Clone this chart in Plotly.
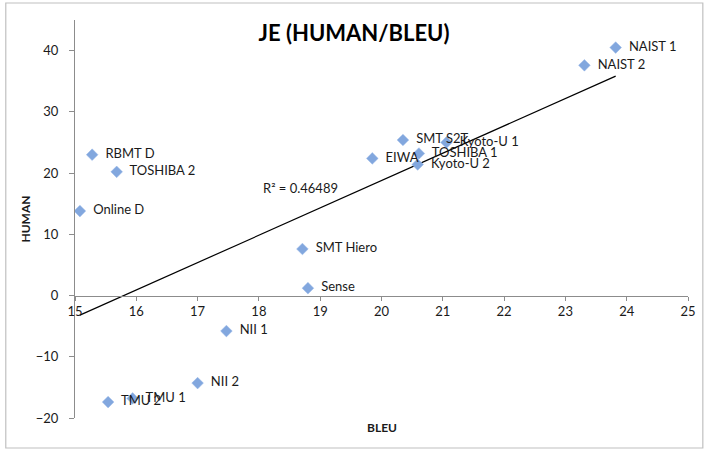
import numpy as np
import plotly.graph_objects as go

systems = ["NAIST 1", "NAIST 2", "SMT S2T", "Kyoto-U 1", "EIWA", "TOSHIBA 1", "Kyoto-U 2",
           "RBMT D", "TOSHIBA 2", "Online D", "SMT Hiero", "Sense", "NII 1", "NII 2",
           "TMU 2", "TMU 1"]
bleu = [23.82, 23.31, 20.35, 21.06, 19.85, 20.61, 20.59,
        15.28, 15.68, 15.08, 18.71, 18.80, 17.47, 17.00,
        15.54, 15.94]
human = [40.5, 37.6, 25.4, 25.0, 22.4, 23.2, 21.4,
         23.0, 20.2, 13.8, 7.6, 1.2, -5.8, -14.3,
         -17.4, -16.8]
x_ticks = [15, 16, 17, 18, 19, 20, 21, 22, 23, 24, 25]
y_ticks = [-20, -10, 0, 10, 20, 30, 40]
r2_text = "R² = 0.46489"

FONT = "Lato, 'Open Sans', sans-serif"
W, H = 708, 450
ML, MR, MT, MB = 75, 13, 20, 32

x_range = [15, 25]
y_range = [-20, 45]

slope, intercept = np.polyfit(bleu, human, 1)
tx = [min(bleu), max(bleu)]
ty = [slope * v + intercept for v in tx]

fig = go.Figure()
fig.add_trace(go.Scatter(
    x=tx, y=ty, mode="lines",
    line=dict(color="#000000", width=1.2),
    hoverinfo="skip", showlegend=False,
))
fig.add_trace(go.Scatter(
    x=bleu, y=human, mode="markers+text",
    text=systems, texttemplate="  %{text}", textposition="middle right",
    textfont=dict(family=FONT, size=13, color="#1a1a1a"),
    marker=dict(symbol="diamond", size=9, color="#82a7de",
                line=dict(color="#9dbbe8", width=0.5)),
    showlegend=False,
))

fig.add_annotation(x=18.03, y=17.5, xref="x", yref="y", text=r2_text,
                   showarrow=False, xanchor="left", yanchor="middle",
                   font=dict(family=FONT, size=13, color="#1a1a1a"))

pw = W - ML - MR
ph = H - MT - MB
fig.add_annotation(x=0.5, y=-9 / ph, xref="paper", yref="paper", text="<b>BLEU</b>",
                   showarrow=False, xanchor="center", yanchor="middle",
                   font=dict(family=FONT, size=12, color="#1a1a1a"))

# outer chart frame
fig.add_shape(type="rect", xref="paper", yref="paper",
              x0=(5 - ML) / pw, x1=(710 - ML) / pw,
              y0=(H - MB - 448) / ph, y1=(H - MB - 3) / ph,
              line=dict(color="#c0c0c0", width=1.2), fillcolor="rgba(0,0,0,0)",
              layer="below")

zero_pos = (0 - y_range[0]) / (y_range[1] - y_range[0])

fig.update_layout(
    width=W, height=H,
    margin=dict(l=ML, r=MR, t=MT, b=MB),
    paper_bgcolor="white", plot_bgcolor="white",
    title=dict(text="<b>JE (HUMAN/BLEU)</b>", x=0.5, xref="container", xanchor="center",
               y=1 - 33 / H, yref="container", yanchor="middle",
               font=dict(family=FONT, size=22, color="#000000")),
    xaxis=dict(range=x_range, tickvals=x_ticks, showgrid=False, zeroline=False,
               showline=True, linecolor="#8c8c8c", linewidth=1,
               ticks="outside", ticklen=4, tickcolor="#8c8c8c",
               anchor="free", position=zero_pos,
               tickfont=dict(family=FONT, size=13, color="#1a1a1a")),
    yaxis=dict(range=y_range, tickvals=y_ticks, showgrid=False, zeroline=False,
               showline=True, linecolor="#8c8c8c", linewidth=1,
               ticks="outside", ticklen=5, tickcolor="#8c8c8c",
               ticklabelstandoff=8,
               title=dict(text="<b>HUMAN</b>", standoff=2,
                          font=dict(family=FONT, size=12, color="#1a1a1a")),
               tickfont=dict(family=FONT, size=13, color="#1a1a1a")),
)

fig.write_html("out.html")
